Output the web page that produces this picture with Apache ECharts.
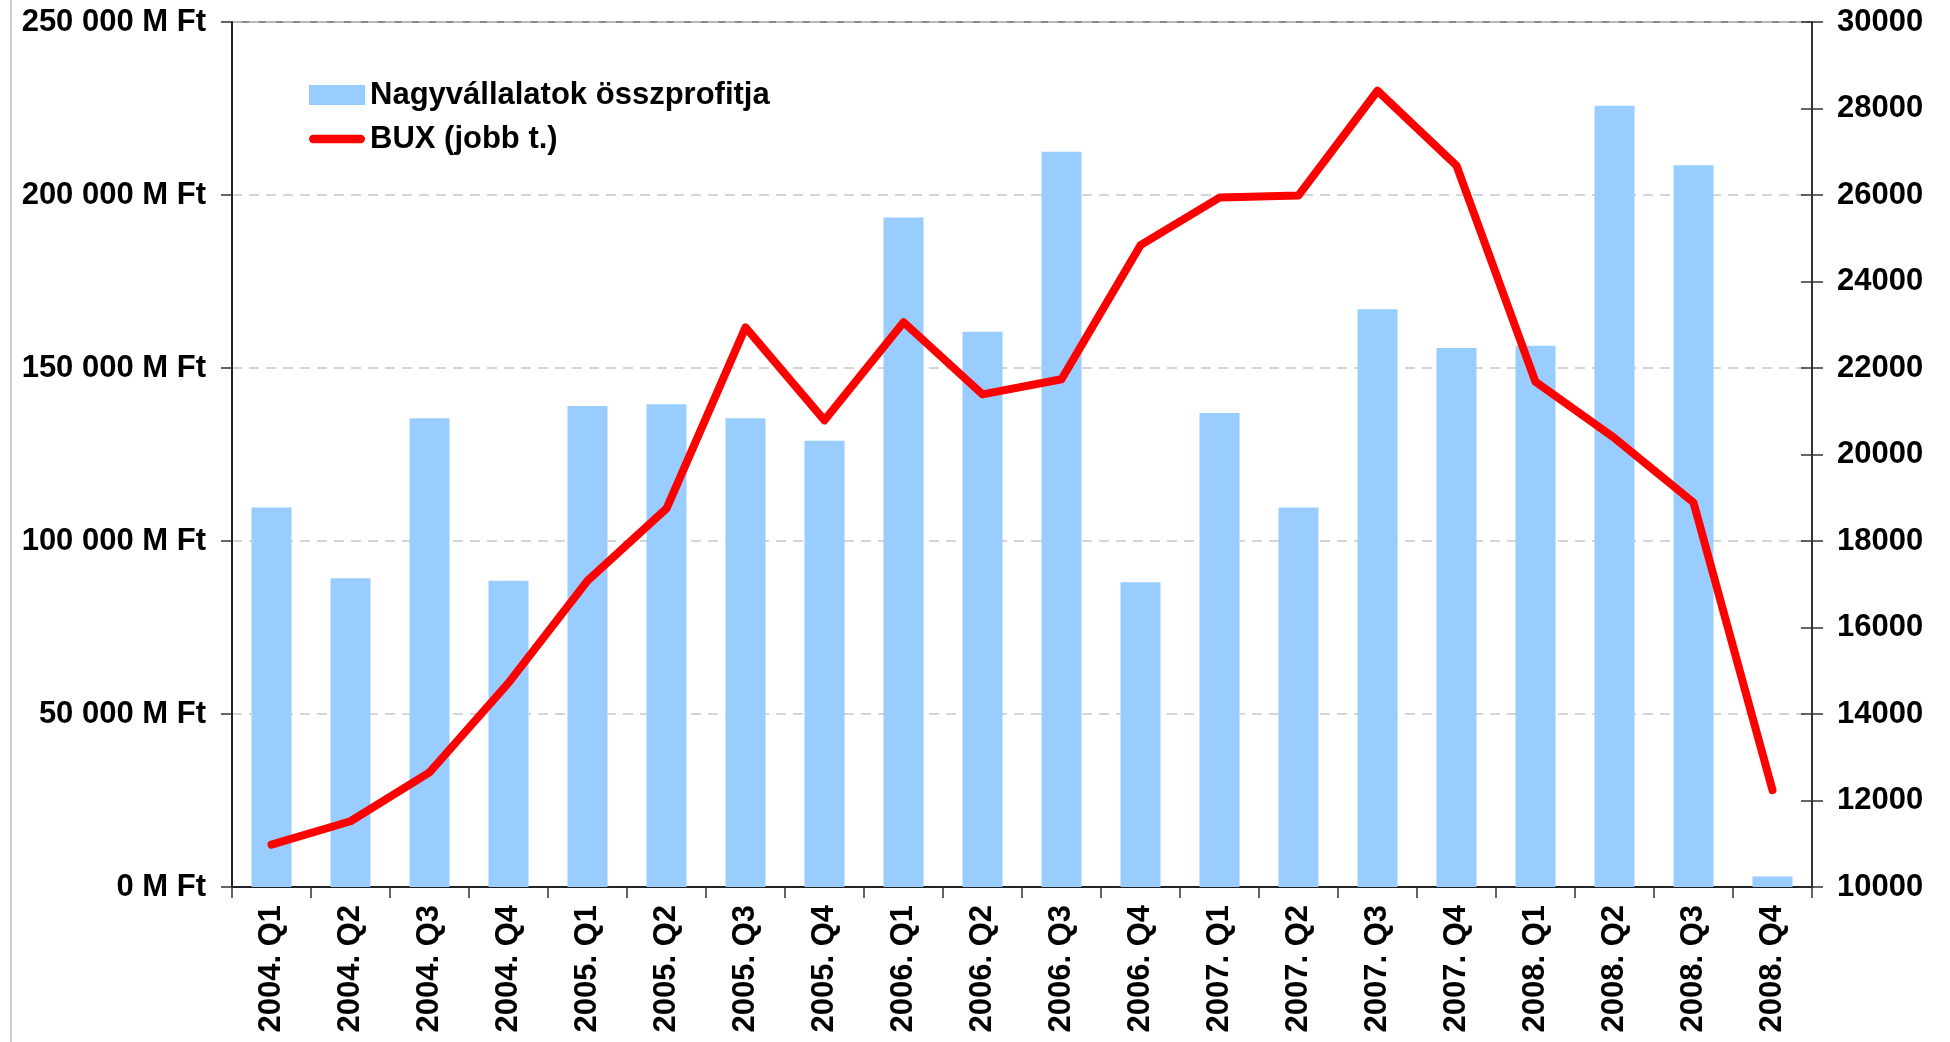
<!DOCTYPE html>
<html>
<head>
<meta charset="utf-8">
<title>Nagyvállalatok összprofitja és BUX</title>
<script src="https://cdn.jsdelivr.net/npm/echarts@6/dist/echarts.min.js"></script>
<style>
  html, body { margin: 0; padding: 0; background: #fff; }
  #chart { width: 1950px; height: 1042px; }
</style>
</head>
<body>
<div id="chart"></div>
<script>
// negyedévek
const quarters = [
  '2004. Q1', '2004. Q2', '2004. Q3', '2004. Q4',
  '2005. Q1', '2005. Q2', '2005. Q3', '2005. Q4',
  '2006. Q1', '2006. Q2', '2006. Q3', '2006. Q4',
  '2007. Q1', '2007. Q2', '2007. Q3', '2007. Q4',
  '2008. Q1', '2008. Q2', '2008. Q3', '2008. Q4'
]

// nagyvállalatok összprofitja (M Ft)
const profit = [
  109700, 89200, 135500, 88500,
  139000, 139500, 135500, 129000,
  193500, 160500, 212500, 88100,
  137000, 109700, 167000, 155800,
  156400, 225800, 208600, 3000
]

// BUX index (jobb tengely)
const bux = [
  10980, 11520, 12650, 14720,
  17080, 18750, 22940, 20790,
  23060, 21390, 21740, 24840,
  25940, 25990, 28410, 26680,
  21680, 20380, 18890, 12240
]

const labelFont = {
  fontFamily: '"Liberation Sans", Arial, sans-serif',
  fontWeight: 'bold',
  fontSize: 31,
  color: '#000'
}

// jelmagyarázat: vastag piros vonal
const lineIcon = 'path://M4,0 L50,0 A4,4 0 0 1 50,8 L4,8 A4,4 0 0 1 4,0 Z'

const chart = echarts.init(document.getElementById('chart'))

chart.setOption({
  backgroundColor: '#fff',
  animation: false,
  grid: {
    left: 232,
    right: 138,
    top: 22,
    bottom: 155,
    show: true,
    borderColor: '#8a8a8a',
    borderWidth: 2,
    containLabel: false
  },
  legend: {
    orient: 'vertical',
    left: 304,
    top: 74,
    itemWidth: 56,
    itemHeight: 20,
    itemGap: 12,
    textStyle: Object.assign({}, labelFont, { padding: [0, 0, 0, 0], lineHeight: 32 }),
    data: [
      { name: 'Nagyvállalatok összprofitja', icon: 'rect' },
      { name: 'BUX (jobb t.)', icon: lineIcon, itemStyle: { color: '#ff0000', borderWidth: 0 } }
    ]
  },
  xAxis: {
    type: 'category',
    data: quarters,
    boundaryGap: true,
    axisLine: { lineStyle: { color: '#222', width: 2 } },
    axisTick: { show: true, alignWithLabel: false, length: 11, lineStyle: { color: '#333', width: 1.5 } },
    axisLabel: Object.assign({}, labelFont, { rotate: 90, interval: 0, margin: 18 })
  },
  yAxis: [
    {
      type: 'value',
      min: 0,
      max: 250000,
      interval: 50000,
      position: 'left',
      axisLine: { show: true, lineStyle: { color: '#222', width: 2 } },
      axisTick: { show: true, length: 11, lineStyle: { color: '#333', width: 1.5 } },
      axisLabel: Object.assign({}, labelFont, {
        margin: 26,
        formatter: v => v === 0 ? '0 M Ft' : (v / 1000) + ' 000 M Ft'
      }),
      splitLine: { show: true, lineStyle: { color: '#c8c8c8', type: [10, 7], width: 1.5 } }
    },
    {
      type: 'value',
      min: 10000,
      max: 30000,
      interval: 2000,
      position: 'right',
      axisLine: { show: true, lineStyle: { color: '#333', width: 2 } },
      axisTick: { show: true, length: 11, lineStyle: { color: '#333', width: 1.5 } },
      axisLabel: Object.assign({}, labelFont, { margin: 25, formatter: v => String(v) }),
      splitLine: { show: false }
    },
    {
      // befelé mutató osztásjelek a jobb tengelyen
      type: 'value',
      min: 10000,
      max: 30000,
      interval: 2000,
      position: 'right',
      axisLine: { show: false },
      axisTick: { show: true, inside: true, length: 11, lineStyle: { color: '#333', width: 1.5 } },
      axisLabel: { show: false },
      splitLine: { show: false }
    }
  ],
  graphic: [
    {
      type: 'line',
      shape: { x1: 11, y1: 0, x2: 11, y2: 1042 },
      style: { stroke: '#cfcfcf', lineWidth: 2 },
      silent: true
    }
  ],
  series: [
    {
      name: 'Nagyvállalatok összprofitja',
      type: 'bar',
      yAxisIndex: 0,
      data: profit,
      barWidth: 40,
      itemStyle: { color: '#99ccff' }
    },
    {
      name: 'BUX (jobb t.)',
      type: 'line',
      yAxisIndex: 1,
      data: bux,
      symbol: 'none',
      z: 5,
      lineStyle: { color: '#ff0000', width: 8, cap: 'round', join: 'round' },
      itemStyle: { color: '#ff0000' }
    }
  ]
})
</script>
</body>
</html>
